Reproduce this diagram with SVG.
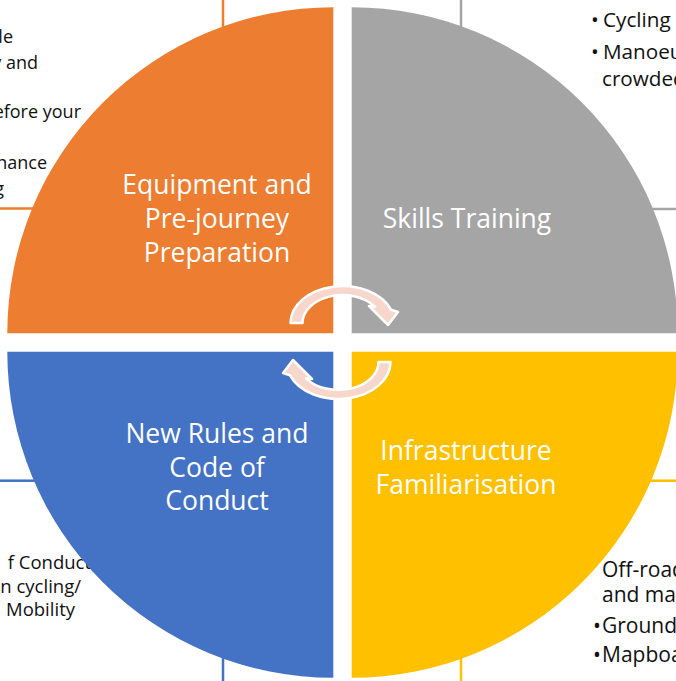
<svg xmlns="http://www.w3.org/2000/svg" width="676" height="681" viewBox="0 0 676 681">
  <style>
    .box { fill: #FFFFFF; stroke-width: 2.5; }
    .bt { font-family: "Open Sans", "Noto Sans", sans-serif; fill: #111111; }
    .lbl { font-family: "Open Sans", "Noto Sans", sans-serif; font-size: 26.5px; fill: #FFFFFF; text-anchor: middle; }
    .arrow { fill: #F7D6CB; stroke: #FFFFFF; stroke-width: 2.5; stroke-linejoin: round; }
  </style>
  <rect x="0" y="0" width="676" height="681" fill="#FFFFFF"/>

  <g id="box-equipment">
    <rect class="box" x="-20" y="-20" width="243" height="228.5" stroke="#ED7D31"/>
    <g class="bt" text-anchor="end" font-size="18px">
      <text x="13" y="43">le</text>
      <text x="38" y="69">y and</text>
      <text x="81" y="118">efore your</text>
      <text x="47" y="169">nance</text>
      <text x="4" y="195">g</text>
    </g>
  </g>

  <g id="box-skills">
    <rect class="box" x="461" y="-20" width="300" height="229" stroke="#A5A5A5"/>
    <g class="bt" font-size="20.7px">
      <text y="27"><tspan x="591">•</tspan><tspan x="603">Cycling</tspan></text>
      <text y="59"><tspan x="591">•</tspan><tspan x="603">Manoeu</tspan></text>
      <text x="602" y="86">crowded</text>
    </g>
  </g>

  <g id="box-rules">
    <rect class="box" x="-20" y="480.7" width="243" height="300" stroke="#4472C4"/>
    <g class="bt" text-anchor="end" font-size="18.5px">
      <text x="91" y="569">f Conduct</text>
      <text x="81" y="593">en cycling/</text>
      <text x="75" y="616"> Mobility</text>
    </g>
  </g>

  <g id="box-infrastructure">
    <rect class="box" x="461" y="480.7" width="300" height="300" stroke="#FFC000"/>
    <g class="bt" font-size="21px">
      <text x="602" y="577">Off-road</text>
      <text x="602" y="602">and mar</text>
      <text y="633"><tspan x="593">•</tspan><tspan x="602">Ground</tspan></text>
      <text y="662"><tspan x="593">•</tspan><tspan x="602">Mapboa</tspan></text>
    </g>
  </g>

  <g id="node-equipment">
    <path d="M333.3,333.3 L7.3,333.3 A326,326 0 0 1 333.3,7.3 Z" fill="#ED7D31"/>
    <text class="lbl" x="217" y="194">Equipment and</text>
    <text class="lbl" x="217" y="228">Pre-journey</text>
    <text class="lbl" x="217" y="262">Preparation</text>
  </g>

  <g id="node-skills">
    <path d="M351.7,333.3 L351.7,7.3 A326,326 0 0 1 677.7,333.3 Z" fill="#A5A5A5"/>
    <text class="lbl" x="467" y="228">Skills Training</text>
  </g>

  <g id="node-rules">
    <path d="M333.3,351.7 L333.3,677.7 A326,326 0 0 1 7.3,351.7 Z" fill="#4472C4"/>
    <text class="lbl" x="217" y="443">New Rules and</text>
    <text class="lbl" x="217" y="477">Code of</text>
    <text class="lbl" x="217" y="510">Conduct</text>
  </g>

  <g id="node-infrastructure">
    <path d="M351.7,351.7 L677.7,351.7 A326,326 0 0 1 351.7,677.7 Z" fill="#FFC000"/>
    <text class="lbl" x="466" y="460">Infrastructure</text>
    <text class="lbl" x="466" y="494">Familiarisation</text>
  </g>

  <g id="connectors">
    <path id="arrow-top" class="arrow" d="M290.5,323 A52,37 0 0 1 391,309.7 L398,312 L388,325 L369,306 L375,306.7 A40,28 0 0 0 302.5,323 Z"/>
    <path id="arrow-bottom" class="arrow" transform="translate(-4,0) rotate(180 342.5 342.5)" d="M290.5,323 A52,37 0 0 1 391,309.7 L398,312 L388,325 L369,306 L375,306.7 A40,28 0 0 0 302.5,323 Z"/>
  </g>
</svg>
